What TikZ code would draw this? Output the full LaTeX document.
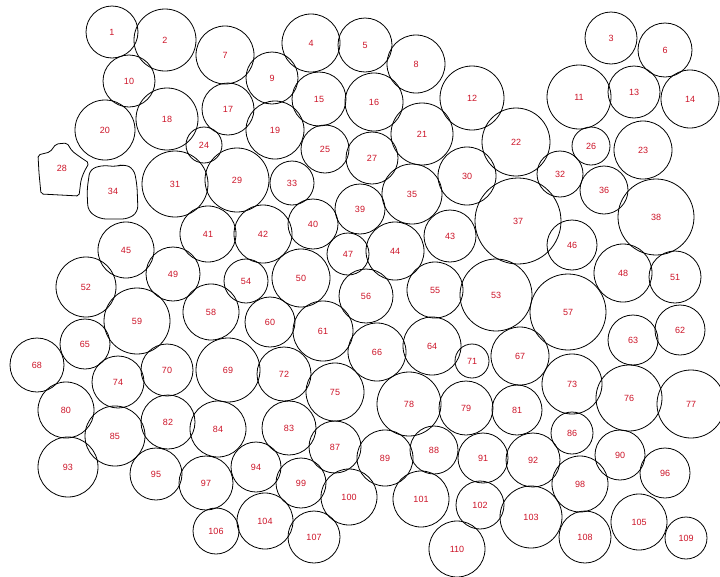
\documentclass[tikz,border=0pt]{standalone}
\usepackage{fontspec}
\setmainfont{Liberation Sans}
\definecolor{lblred}{RGB}{205,20,40}
\begin{document}
\begin{tikzpicture}[x=1pt,y=-1pt,
  cell/.style={circle,draw=black,line width=0.8pt,inner sep=0pt,text=lblred,font=\fontsize{9}{10}\selectfont},
  blob/.style={draw=black,line width=0.8pt},
  lbl/.style={inner sep=0pt,text=lblred,font=\fontsize{9}{10}\selectfont}]
\useasboundingbox[fill=white] (0,0) rectangle (720,576);
\foreach \n/\x/\y/\r in {
1/112/32/25, 2/165/40/30, 3/611/38/25, 4/311/43/28, 5/365/45/26, 6/665/50/26,
7/225/55/28, 8/416/64/28, 9/272/78/25, 10/129/81/25, 11/579/97/31, 12/472/98/31,
13/634/92/25, 14/690/99/28, 15/319/99/26, 16/374/102/28, 17/228/109/25, 18/167/119/30,
19/275/130/28, 20/105/130/29, 21/422/134/30, 22/516/142/33, 23/643/150/28, 24/204/145/17,
25/325/149/23, 26/591/146/18, 27/372/158/25, 29/237/180/31, 30/467/176/28,
31/175/184/32, 32/560/174/22, 33/292/183/21, 35/412/194/29, 36/604/190/23,
37/518/221/42, 38/656/217/37, 39/360/209/24, 40/313/224/24, 41/208/234/27, 42/263/234/28,
43/450/236/25, 44/395/251/28, 45/126/250/27, 46/572/245/24, 47/348/254/20, 48/623/273/28,
49/173/274/26, 50/301/278/28, 51/675/277/25, 52/86/287/29, 53/496/295/35, 54/246/281/21,
55/435/290/27, 56/366/296/26, 57/568/312/37, 58/211/312/27, 59/137/321/32, 60/270/322/24,
61/323/331/29, 62/680/330/24, 63/633/340/24, 64/432/346/28, 65/85/344/24, 66/377/352/28,
67/520/356/28, 68/37/365/26, 69/228/370/31, 70/167/370/25, 71/472/361/16, 72/284/374/26,
73/572/384/29, 74/118/382/25, 75/335/392/28, 76/629/398/32, 77/691/404/33, 78/409/404/31,
79/466/408/26, 80/66/410/27, 81/517/410/24, 82/168/422/26, 83/289/428/26, 84/218/429/27,
85/115/436/29, 86/572/433/20, 87/335/447/25, 88/434/450/23, 89/385/458/27, 90/620/455/24,
91/483/458/24, 92/533/460/26, 93/68/467/29, 94/256/467/24, 95/156/474/25, 96/665/473/24,
97/206/483/26, 98/580/484/27, 99/301/483/24, 100/349/497/27, 101/421/499/27, 102/480/505/23,
103/531/517/30, 104/265/521/27, 105/639/522/27, 106/216/531/22, 107/314/537/25, 108/585/537/25,
109/686/538/20, 110/457/549/27}
  \node[cell,minimum size={2*\r pt+2pt}] (c\n) at (\x,\y) {\n};
% irregular cell 28
\draw[blob,rounded corners=2pt] (38,155) -- (50,152) -- (56,144) -- (67,143) -- (72,151)
  -- (80,157) -- (89,163) -- (84,172) -- (81,180) -- (79,196) -- (41,194) -- (39,173) -- cycle;
\node[lbl] (c28) at (62,168) {28};
% irregular cell 34
\draw[blob,rounded corners=6pt] (90,169) -- (104,165) -- (115,167) -- (124,164) -- (134,169)
  -- (137,185) -- (138,212) -- (128,219) -- (100,219) -- (88,211) -- (87,190) -- cycle;
\node[lbl] (c34) at (113,191) {34};
\end{tikzpicture}
\end{document}
